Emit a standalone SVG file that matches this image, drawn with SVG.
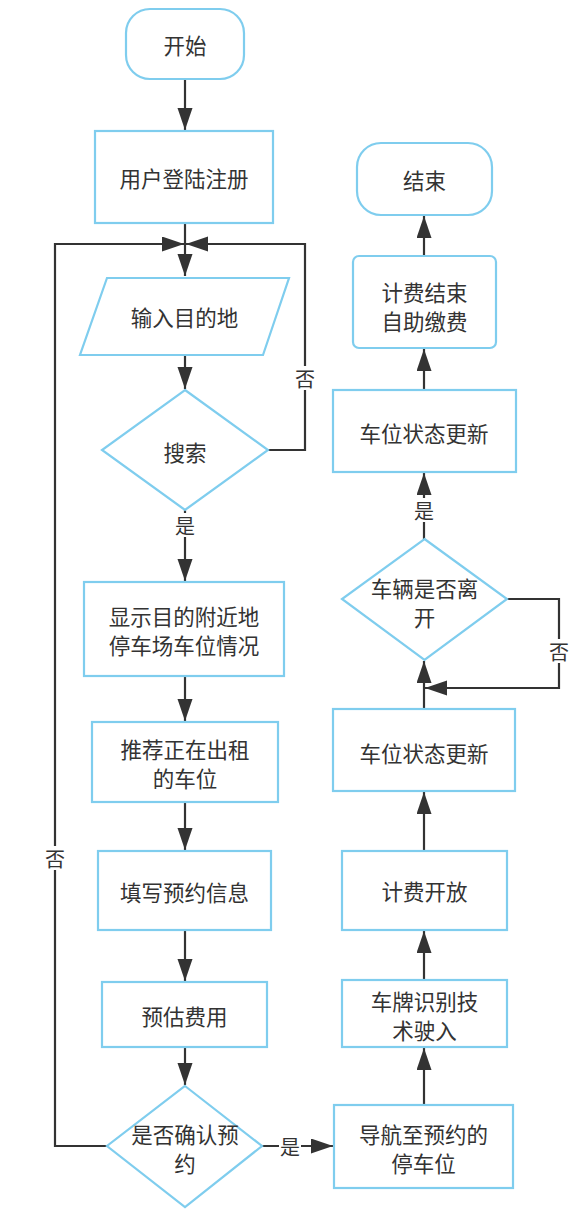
<svg xmlns="http://www.w3.org/2000/svg" width="581" height="1221" viewBox="0 0 581 1221">
<style>
.n{fill:#fff;stroke:#7fcdee;stroke-width:2.2}
.t{font-family:"Noto Sans CJK SC","Noto Sans",sans-serif;font-size:21.5px;fill:#333;text-anchor:middle;dominant-baseline:central}
.c{fill:none;stroke:#333;stroke-width:2.2}
.lb{fill:#fff}
.l{font-family:"Noto Sans CJK SC","Noto Sans",sans-serif;font-size:20px;fill:#333;text-anchor:middle;dominant-baseline:central}
</style>
<defs>
<marker id="a" markerUnits="userSpaceOnUse" markerWidth="24" markerHeight="16" refX="22" refY="7.5" orient="auto">
<path d="M0,0 L22,7.5 L0,15 z" fill="#333"/>
</marker>
</defs>
<rect width="581" height="1221" fill="#fff"/>
<g id="connectors">
<path class="c" d="M185,79 V130" marker-end="url(#a)"/>
<path class="c" d="M185,223 V276" marker-end="url(#a)"/>
<path class="c" d="M268,450 H305 V244 H186" marker-end="url(#a)"/>
<path class="c" d="M107,1146 H55 V244 H184" marker-end="url(#a)"/>
<path class="c" d="M185,355 V389" marker-end="url(#a)"/>
<path class="c" d="M185,510 V581" marker-end="url(#a)"/>
<path class="c" d="M185,676 V721" marker-end="url(#a)"/>
<path class="c" d="M185,802 V850" marker-end="url(#a)"/>
<path class="c" d="M185,930 V981" marker-end="url(#a)"/>
<path class="c" d="M185,1047 V1085" marker-end="url(#a)"/>
<path class="c" d="M262,1146 H333" marker-end="url(#a)"/>
<path class="c" d="M424,1105 V1048" marker-end="url(#a)"/>
<path class="c" d="M424,980 V931" marker-end="url(#a)"/>
<path class="c" d="M424,851 V792" marker-end="url(#a)"/>
<path class="c" d="M424,709 V661" marker-end="url(#a)"/>
<path class="c" d="M507,599 H559 V688 H425" marker-end="url(#a)"/>
<path class="c" d="M424,539 V473" marker-end="url(#a)"/>
<path class="c" d="M424,390 V349" marker-end="url(#a)"/>
<path class="c" d="M424,256 V216" marker-end="url(#a)"/>
<rect class="lb" x="294" y="366" width="22" height="24"/>
<text class="l" x="305" y="378">否</text>
<rect class="lb" x="44" y="846" width="22" height="24"/>
<text class="l" x="55" y="858">否</text>
<rect class="lb" x="548" y="639" width="22" height="24"/>
<text class="l" x="559" y="651">否</text>
<rect class="lb" x="174" y="513" width="22" height="24"/>
<text class="l" x="185" y="525">是</text>
<rect class="lb" x="413" y="498" width="22" height="24"/>
<text class="l" x="424" y="510">是</text>
<rect class="lb" x="279" y="1134" width="22" height="24"/>
<text class="l" x="290" y="1146">是</text>
</g>
<g id="start">
<rect class="n" x="126" y="9" width="118" height="70" rx="24"/>
<text class="t" x="185" y="44">开始</text>
</g>
<g id="login">
<rect class="n" x="95" y="131" width="178" height="92"/>
<text class="t" x="184" y="177">用户登陆注册</text>
</g>
<g id="input">
<polygon class="n" points="107,278 289,278 263,355 80,355"/>
<text class="t" x="184.5" y="316">输入目的地</text>
</g>
<g id="search">
<polygon class="n" points="185,390 268,450 185,510 102,450"/>
<text class="t" x="185" y="451">搜索</text>
</g>
<g id="show">
<rect class="n" x="84" y="582" width="200" height="94"/>
<text class="t" x="184" y="615">显示目的附近地<tspan x="184" dy="29">停车场车位情况</tspan></text>
</g>
<g id="recommend">
<rect class="n" x="92" y="722" width="186" height="80"/>
<text class="t" x="185" y="748">推荐正在出租<tspan x="185" dy="29">的车位</tspan></text>
</g>
<g id="fill">
<rect class="n" x="98" y="851" width="173" height="79"/>
<text class="t" x="184.5" y="891">填写预约信息</text>
</g>
<g id="estimate">
<rect class="n" x="102" y="982" width="165" height="65"/>
<text class="t" x="184.5" y="1015">预估费用</text>
</g>
<g id="confirm">
<polygon class="n" points="185,1086 262,1146 185,1207 107,1146"/>
<text class="t" x="185" y="1133">是否确认预<tspan x="185" dy="29">约</tspan></text>
</g>
<g id="navigate">
<rect class="n" x="334" y="1105" width="179" height="83"/>
<text class="t" x="423.5" y="1133">导航至预约的<tspan x="423.5" dy="29">停车位</tspan></text>
</g>
<g id="plate">
<rect class="n" x="342" y="980" width="165" height="67"/>
<text class="t" x="424.5" y="1000">车牌识别技<tspan x="424.5" dy="29">术驶入</tspan></text>
</g>
<g id="billing">
<rect class="n" x="342" y="851" width="165" height="79"/>
<text class="t" x="424.5" y="890">计费开放</text>
</g>
<g id="update1">
<rect class="n" x="333" y="709" width="182" height="82"/>
<text class="t" x="424" y="752">车位状态更新</text>
</g>
<g id="leave">
<polygon class="n" points="424.5,539 507,599 424.5,660 342,599"/>
<text class="t" x="424.5" y="587">车辆是否离<tspan x="424.5" dy="29">开</tspan></text>
</g>
<g id="update2">
<rect class="n" x="333" y="390" width="183" height="82"/>
<text class="t" x="424" y="432">车位状态更新</text>
</g>
<g id="pay">
<rect class="n" x="353" y="256" width="143" height="92" rx="6"/>
<text class="t" x="424.5" y="291">计费结束<tspan x="424.5" dy="29">自助缴费</tspan></text>
</g>
<g id="end">
<rect class="n" x="357" y="143" width="135" height="72" rx="24"/>
<text class="t" x="424.5" y="179">结束</text>
</g>
</svg>
